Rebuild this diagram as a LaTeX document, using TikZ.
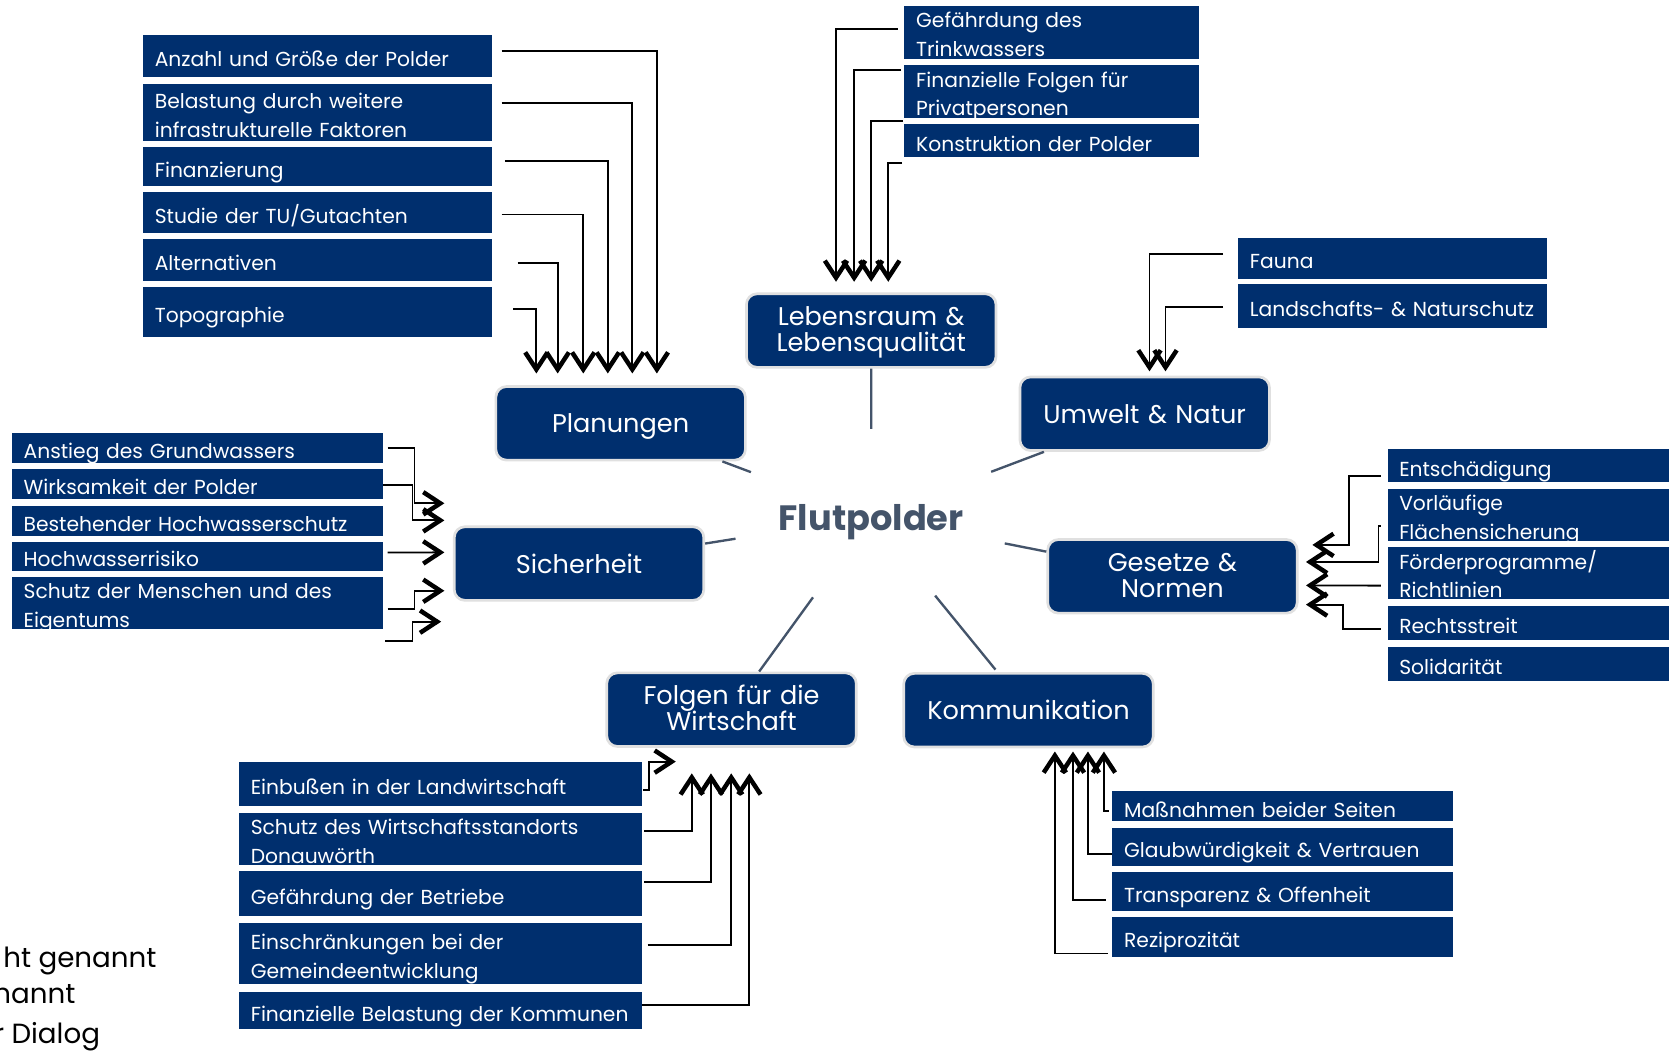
\documentclass[tikz,border=0pt]{standalone}
\usepackage{fontspec}
\setmainfont{Poppins}
\usetikzlibrary{shapes.geometric, arrows.meta}
\definecolor{boxblue}{HTML}{002F6E}
\definecolor{spokegray}{HTML}{44546A}
\tikzset{
  sbox/.style={anchor=north west, fill=boxblue, text=white, inner xsep=11pt, inner ysep=0pt,
    font=\fontsize{19}{27}\selectfont, align=left, text width=#1, text height=20pt, text depth=0pt},
  sboxx/.style={sbox=#1, text depth=28pt},
  topic/.style={fill=boxblue, draw=black!12, line width=2.5pt, rounded corners=10pt, text=white,
    font=\fontsize{24}{25}\selectfont, align=center, text width=215pt, minimum width=234pt,
    minimum height=69pt, inner sep=0pt, text height=18pt, text depth=0pt},
  topicc/.style={topic, text depth=28pt},
  hub/.style={ellipse, minimum width=262pt, minimum height=165pt, inner sep=0pt, text=spokegray,
    font=\fontsize{33}{33}\selectfont\bfseries, text height=25pt, text depth=0pt},
  spoke/.style={draw=spokegray, line width=2.2pt, shorten <=3pt},
  feed/.style={draw=black, line width=1.7pt, -{Straight Barb[length=16pt,width=21pt,line width=4.2pt]}},
  legend/.style={anchor=base east, inner sep=0pt, text=black, font=\fontsize{26}{26}\selectfont}
}
\begin{document}
\begin{tikzpicture}[x=1pt,y=-1pt]
  \path[use as bounding box, fill=white] (0,0) rectangle (1568,987);

  \node[hub] (hub) at (817,485) {Flutpolder};
  \node[topic] (plan) at (582,397) {Planungen};
  \node[topicc] (leben) at (817,310) {Lebensraum \&\\Lebensqualität};
  \node[topic] (umwelt) at (1073.5,388) {Umwelt \& Natur};
  \node[topicc] (gesetz) at (1099.5,540.5) {Gesetze \&\\Normen};
  \node[topic] (sicher) at (543,528.5) {Sicherheit};
  \node[topicc] (folgen) at (686,665.5) {Folgen für die\\Wirtschaft};
  \node[topic] (komm) at (964.5,666) {Kommunikation};
  \draw[spoke] (plan) -- (hub) (leben) -- (hub) (umwelt) -- (hub) (gesetz) -- (hub)
    (sicher) -- (hub) (folgen) -- (hub) (komm) -- (hub);

  \node[sbox=305pt, minimum height=39pt] (anzahl) at (134,33) {Anzahl und Größe der Polder};
  \node[sboxx=305pt, minimum height=53pt] (belast) at (134,79) {Belastung durch weitere\\infrastrukturelle Faktoren};
  \node[sbox=305pt, minimum height=36pt] (finanz) at (134,138) {Finanzierung};
  \node[sbox=305pt, minimum height=38pt] (studie) at (134,180) {Studie der TU/Gutachten};
  \node[sbox=305pt, minimum height=39pt] (altern) at (134,224) {Alternativen};
  \node[sbox=305pt, minimum height=47pt] (topo) at (134,269) {Topographie};
  \draw[feed] ([xshift=9pt,yshift=5pt]anzahl.east) -| ([xshift=34pt,yshift=11pt]plan.north);
  \draw[feed] ([xshift=9pt,yshift=9pt]belast.east) -| ([xshift=11pt,yshift=11pt]plan.north);
  \draw[feed] ([xshift=12pt,yshift=5pt]finanz.east) -| ([xshift=-12pt,yshift=11pt]plan.north);
  \draw[feed] ([xshift=9pt,yshift=-2pt]studie.east) -| ([xshift=-35pt,yshift=11pt]plan.north);
  \draw[feed] ([xshift=24pt,yshift=-3pt]altern.east) -| ([xshift=-59pt,yshift=11pt]plan.north);
  \draw[feed] ([xshift=20pt,yshift=3pt]topo.east) -| ([xshift=-79pt,yshift=11pt]plan.north);

  \node[sboxx=254pt, minimum height=50pt] (trink) at (848,5) {Gefährdung des\\Trinkwassers};
  \node[sboxx=254pt, minimum height=49pt] (privat) at (848,61) {Finanzielle Folgen für\\Privatpersonen};
  \node[sbox=254pt, minimum height=31pt] (konstr) at (848,116) {Konstruktion der Polder};
  \draw[feed] ([xshift=-6pt,yshift=3pt]trink.west) -| ([xshift=-33pt,yshift=10pt]leben.north);
  \draw[feed] ([xshift=-3pt,yshift=20pt]privat.west) -| ([xshift=-16pt,yshift=10pt]leben.north);
  \draw[feed] ([xshift=-1pt,yshift=18pt]konstr.west) -| ([yshift=10pt]leben.north);
  \draw[feed] ([xshift=-2pt,yshift=-21pt]konstr.west) -| ([xshift=16pt,yshift=10pt]leben.north);

  \node[sbox=268pt, minimum height=38pt] (fauna) at (1161,223) {Fauna};
  \node[sbox=268pt, minimum height=41pt] (natur) at (1161,266) {Landschafts- \& Naturschutz};
  \draw[feed] ([xshift=-14pt,yshift=4pt]fauna.west) -| ([xshift=4.5pt,yshift=4pt]umwelt.north);
  \draw[feed] ([xshift=-14pt,yshift=-1.5pt]natur.west) -| ([xshift=19.5pt,yshift=4pt]umwelt.north);

  \node[sbox=242pt, minimum height=31pt] (entsch) at (1301,421) {Entschädigung};
  \node[sboxx=242pt, minimum height=49pt] (vorl) at (1301,458) {Vorläufige\\Flächensicherung};
  \node[sboxx=242pt, minimum height=49pt] (foerd) at (1301,513) {Förderprogramme/\\Richtlinien};
  \node[sbox=242pt, minimum height=32pt] (recht) at (1301,568) {Rechtsstreit};
  \node[sbox=242pt, minimum height=31pt] (solid) at (1301,607) {Solidarität};
  \draw[feed] ([xshift=-6pt,yshift=-9.5pt]entsch.west) -| ([xshift=47pt,yshift=29.5pt]gesetz.east) -- ([xshift=13pt,yshift=29.5pt]gesetz.east);
  \draw[feed] ([xshift=-6pt,yshift=-10.5pt]vorl.west) -| ([xshift=75pt,yshift=13.5pt]gesetz.east) -- ([xshift=7pt,yshift=13.5pt]gesetz.east);
  \draw[feed] ([xshift=-6pt,yshift=-11.5pt]foerd.west) -- ([xshift=7pt,yshift=-8.5pt]gesetz.east);
  \draw[feed] ([xshift=-6pt,yshift=-6pt]recht.west) -| ([xshift=42pt,yshift=-26.5pt]gesetz.east) -- ([xshift=7pt,yshift=-26.5pt]gesetz.east);

  \node[sbox=326pt, minimum height=28pt] (anstieg) at (11,406) {Anstieg des Grundwassers};
  \node[sbox=326pt, minimum height=28pt] (wirk) at (11,440) {Wirksamkeit der Polder};
  \node[sbox=326pt, minimum height=28pt] (best) at (11,474) {Bestehender Hochwasserschutz};
  \node[sbox=326pt, minimum height=27pt] (risiko) at (11,508) {Hochwasserrisiko};
  \node[sboxx=326pt, minimum height=49pt] (schutz) at (11,541) {Schutz der Menschen und des\\Eigentums};
  \draw[feed] ([xshift=4pt]anstieg.east) -| ([xshift=-36pt,yshift=56.5pt]sicher.west) -- ([xshift=-8pt,yshift=56.5pt]sicher.west);
  \draw[feed] ([yshift=-1pt]wirk.east) -| ([xshift=-38pt,yshift=40.5pt]sicher.west) -- ([xshift=-8pt,yshift=40.5pt]sicher.west);
  \draw[feed] ([xshift=4pt,yshift=3.5pt]risiko.east) -- ([xshift=-8pt,yshift=10.5pt]sicher.west);
  \draw[feed] ([xshift=4pt,yshift=-5.5pt]schutz.east) -| ([xshift=-36pt,yshift=-25.5pt]sicher.west) -- ([xshift=-8pt,yshift=-25.5pt]sicher.west);
  \draw[feed] ([xshift=2pt,yshift=-35.5pt]schutz.east) -| ([xshift=-38pt,yshift=-54.5pt]sicher.west) -- ([xshift=-11pt,yshift=-54.5pt]sicher.west);

  \node[sbox=356pt, minimum height=42pt] (einb) at (224,714) {Einbußen in der Landwirtschaft};
  \node[sboxx=356pt, minimum height=49pt] (standort) at (224,762) {Schutz des Wirtschaftsstandorts\\Donauwörth};
  \node[sbox=356pt, minimum height=42pt] (betr) at (224,817) {Gefährdung der Betriebe};
  \node[sboxx=356pt, minimum height=58pt] (gemeinde) at (224,865) {Einschränkungen bei der\\Gemeindeentwicklung};
  \node[sbox=356pt, minimum height=35pt] (kommunen) at (224,930) {Finanzielle Belastung der Kommunen};
  \draw[feed] ([xshift=1pt,yshift=-6pt]einb.east) -| ([xshift=41pt,yshift=-13pt]folgen.south west) -- ([xshift=66pt,yshift=-13pt]folgen.south west);
  \draw[feed] ([xshift=2pt,yshift=7.5pt]standort.east) -| ([xshift=81pt,yshift=-24pt]folgen.south west);
  \draw[feed] ([xshift=2pt,yshift=11pt]betr.east) -| ([xshift=99pt,yshift=-24pt]folgen.south west);
  \draw[feed] ([xshift=5pt,yshift=8pt]gemeinde.east) -| ([xshift=118pt,yshift=-24pt]folgen.south west);
  \draw[feed] ([yshift=5.5pt]kommunen.east) -| ([xshift=135pt,yshift=-24pt]folgen.south west);

  \node[sbox=297pt, minimum height=28pt] (massn) at (1043,742) {Maßnahmen beider Seiten};
  \node[sbox=297pt, minimum height=36pt] (glaub) at (1043,776) {Glaubwürdigkeit \& Vertrauen};
  \node[sbox=297pt, minimum height=36pt] (transp) at (1043,818) {Transparenz \& Offenheit};
  \node[sbox=297pt, minimum height=37pt] (rezi) at (1043,860) {Reziprozität};
  \draw[feed] ([xshift=-3pt,yshift=-4pt]massn.west) -| ([xshift=189pt,yshift=-3pt]komm.south west);
  \draw[feed] ([yshift=-7pt]glaub.west) -| ([xshift=174pt,yshift=-3pt]komm.south west);
  \draw[feed] ([xshift=-6pt,yshift=-8pt]transp.west) -| ([xshift=160pt,yshift=-3pt]komm.south west);
  \draw[feed] ([xshift=-4pt,yshift=-15.5pt]rezi.west) -| ([xshift=143pt,yshift=-3pt]komm.south west);

  \node[legend] (leg1) at (147,907) {ht genannt};
  \node[legend] (leg2) at (71,941) {nannt};
  \node[legend] (leg3) at (94,979) {r Dialog};
\end{tikzpicture}
\end{document}
